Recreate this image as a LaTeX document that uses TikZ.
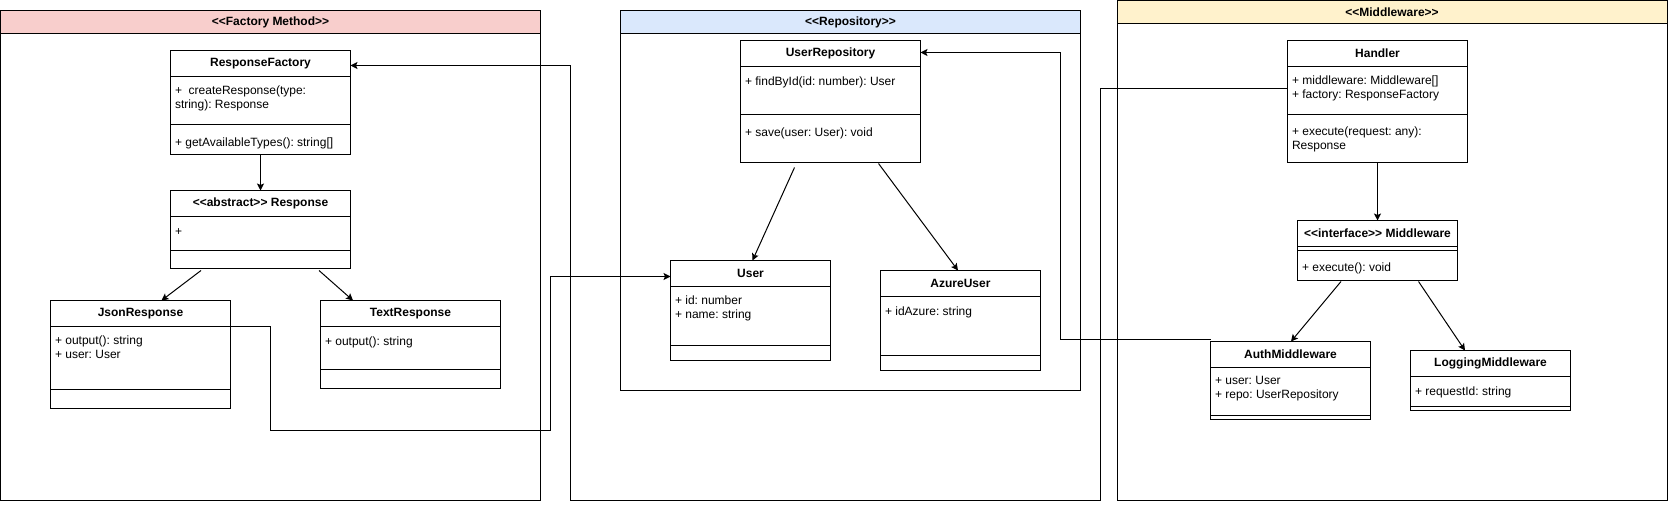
\documentclass[tikz,border=0pt]{standalone}
\usepackage{fontspec}
\setmainfont{Liberation Sans}
\usetikzlibrary{positioning,calc,arrows.meta}

\definecolor{factoryhead}{HTML}{F8CECC}
\definecolor{repohead}{HTML}{DAE8FC}
\definecolor{mwhead}{HTML}{FFF2CC}

\newcommand{\ltlt}{<\kern0pt<}
\newcommand{\gtgt}{>\kern0pt>}

\tikzset{
  cls/.style={draw, fill=white, anchor=north west, inner sep=0pt, outer sep=0pt},
  ctitle/.style={font=\fontsize{12}{14}\selectfont\bfseries\frenchspacing, inner sep=0pt},
  member/.style={font=\fontsize{12}{14}\selectfont\frenchspacing, align=left, anchor=north west,
    inner sep=0pt, execute at begin node=\strut},
  arr/.style={-{Stealth[length=7pt,width=7pt,inset=1.5pt]}},
}

\begin{document}
\begin{tikzpicture}[x=1pt,y=-1pt,line width=1pt]
\fill[white] (0,0) rectangle (1668,510);
\useasboundingbox (0,0) rectangle (1668,510);
% frames
\draw (0.5,10.5) rectangle (540.5,500.5);
\draw[fill=factoryhead] (0.5,10.5) rectangle (540.5,33.5);
\node[ctitle] (fmt) at (270.5,22) {\ltlt Factory Method\gtgt};
\draw (620.5,10.5) rectangle (1080.5,390.5);
\draw[fill=repohead] (620.5,10.5) rectangle (1080.5,33.5);
\node[ctitle] (rpt) at (850.5,22) {\ltlt Repository\gtgt};
\draw (1117.5,0.5) rectangle (1667,500.5);
\draw[fill=mwhead] (1117.5,0.5) rectangle (1667,23.5);
\node[ctitle] (mwt) at (1392,12) {\ltlt Middleware\gtgt};
% classes
\node[cls, minimum width=180pt, minimum height=104pt] (rf) at (170.5,50.5) {};
\draw (rf.north west) ++(0,26) -- ++(180,0);
\draw (rf.north west) ++(0,74) -- ++(180,0);
\node[ctitle] (rf-t) at ($(rf.north)+(0,13)$) {ResponseFactory};
\node[member] (rf-a) at ($(rf.north west)+(4,34.5)$) {+\ \ createResponse(type:\\string): Response};
\node[member] (rf-m) at ($(rf.north west)+(4,85.5)$) {+ getAvailableTypes(): string[]};
\node[cls, minimum width=180pt, minimum height=78pt] (resp) at (170.5,190.5) {};
\draw (resp.north west) ++(0,26) -- ++(180,0);
\draw (resp.north west) ++(0,60) -- ++(180,0);
\node[ctitle] (resp-t) at ($(resp.north)+(0,13)$) {\ltlt abstract\gtgt{} Response};
\node[member] (resp-a) at ($(resp.north west)+(4,34.5)$) {+};
\node[cls, minimum width=180pt, minimum height=108pt] (json) at (50.5,300.5) {};
\draw (json.north west) ++(0,26) -- ++(180,0);
\draw (json.north west) ++(0,89) -- ++(180,0);
\node[ctitle] (json-t) at ($(json.north)+(0,13)$) {JsonResponse};
\node[member] (json-a) at ($(json.north west)+(4,34.5)$) {+ output(): string\\+ user: User};
\node[cls, minimum width=180pt, minimum height=88pt] (txt) at (320.5,300.5) {};
\draw (txt.north west) ++(0,26) -- ++(180,0);
\draw (txt.north west) ++(0,69) -- ++(180,0);
\node[ctitle] (txt-t) at ($(txt.north)+(0,13)$) {TextResponse};
\node[member] (txt-a) at ($(txt.north west)+(4,34.5)$) {+ output(): string};
\node[cls, minimum width=180pt, minimum height=122pt] (repo) at (740.5,40.5) {};
\draw (repo.north west) ++(0,26) -- ++(180,0);
\draw (repo.north west) ++(0,74) -- ++(180,0);
\node[ctitle] (repo-t) at ($(repo.north)+(0,13)$) {UserRepository};
\node[member] (repo-a) at ($(repo.north west)+(4,34.5)$) {+ findById(id: number): User};
\node[member] (repo-m) at ($(repo.north west)+(4,85.5)$) {+ save(user: User): void};
\node[cls, minimum width=160pt, minimum height=100pt] (user) at (670.5,260.5) {};
\draw (user.north west) ++(0,26) -- ++(160,0);
\draw (user.north west) ++(0,85) -- ++(160,0);
\node[ctitle] (user-t) at ($(user.north)+(0,13)$) {User};
\node[member] (user-a) at ($(user.north west)+(4,34.5)$) {+ id: number\\+ name: string};
\node[cls, minimum width=160pt, minimum height=100pt] (azure) at (880.5,270.5) {};
\draw (azure.north west) ++(0,26) -- ++(160,0);
\draw (azure.north west) ++(0,85) -- ++(160,0);
\node[ctitle] (azure-t) at ($(azure.north)+(0,13)$) {AzureUser};
\node[member] (azure-a) at ($(azure.north west)+(4,34.5)$) {+ idAzure: string};
\node[cls, minimum width=180pt, minimum height=122pt] (handler) at (1287.5,40.5) {};
\draw (handler.north west) ++(0,26) -- ++(180,0);
\draw (handler.north west) ++(0,74) -- ++(180,0);
\node[ctitle] (handler-t) at ($(handler.north)+(0,13)$) {Handler};
\node[member] (handler-a) at ($(handler.north west)+(4,34.5)$) {+ middleware: Middleware[]\\+ factory: ResponseFactory};
\node[member] (handler-m) at ($(handler.north west)+(4,85.5)$) {+ execute(request: any):\\Response};
\node[cls, minimum width=160pt, minimum height=60pt] (mw) at (1297.5,220.5) {};
\draw (mw.north west) ++(0,26) -- ++(160,0);
\draw (mw.north west) ++(0,30) -- ++(160,0);
\node[ctitle] (mw-t) at ($(mw.north)+(0,13)$) {\ltlt interface\gtgt{} Middleware};
\node[member] (mw-m) at ($(mw.north west)+(4,41)$) {+ execute(): void};
\node[cls, minimum width=160pt, minimum height=78pt] (auth) at (1210.5,341.5) {};
\draw (auth.north west) ++(0,26) -- ++(160,0);
\draw (auth.north west) ++(0,74) -- ++(160,0);
\node[ctitle] (auth-t) at ($(auth.north)+(0,13)$) {AuthMiddleware};
\node[member] (auth-a) at ($(auth.north west)+(4,34.5)$) {+ user: User\\+ repo: UserRepository};
\node[cls, minimum width=160pt, minimum height=60pt] (log) at (1410.5,350.5) {};
\draw (log.north west) ++(0,26) -- ++(160,0);
\draw (log.north west) ++(0,56) -- ++(160,0);
\node[ctitle] (log-t) at ($(log.north)+(0,13)$) {LoggingMiddleware};
\node[member] (log-a) at ($(log.north west)+(4,34.5)$) {+ requestId: string};
% connectors
\draw[arr] (rf) -- (resp);
\draw[arr] ($(resp.south)+(-59.5,2)$) -- ($(json.north)+(21,0)$);
\draw[arr] ($(resp.south)+(58.5,2)$) -- ($(txt.north)+(-57.5,0)$);
\draw[arr] ($(repo.south)+(-36,5)$) -- ($(user.north)+(2,0)$);
\draw[arr] ($(repo.south)+(48,1)$) -- ($(azure.north)+(-2.5,0)$);
\draw[arr] (handler) -- (mw);
\draw[arr] ($(mw.south)+(-36.5,1)$) -- ($(auth.north)+(0.5,0)$);
\draw[arr] ($(mw.south)+(41,1)$) -- ($(log.north)+(-25.5,0)$);
\coordinate (j1) at (270.5,430.5);
\coordinate (j2) at (550.5,276.5);
\draw[arr] ($(json.north west)+(180,26)$) -| (j1) -| (j2) -- (j2 -| user.west);
\coordinate (h1) at (1100.5,500.5);
\coordinate (h2) at (570.5,65.5);
\draw[arr] ($(handler.north west)+(0,48)$) -| (h1) -| (h2) -- (h2 -| rf.east);
\coordinate (a1) at (1060.5,52.5);
\draw[arr] ($(auth.north west)+(0,-2)$) -| (a1) -- (a1 -| repo.east);
\end{tikzpicture}
\end{document}
